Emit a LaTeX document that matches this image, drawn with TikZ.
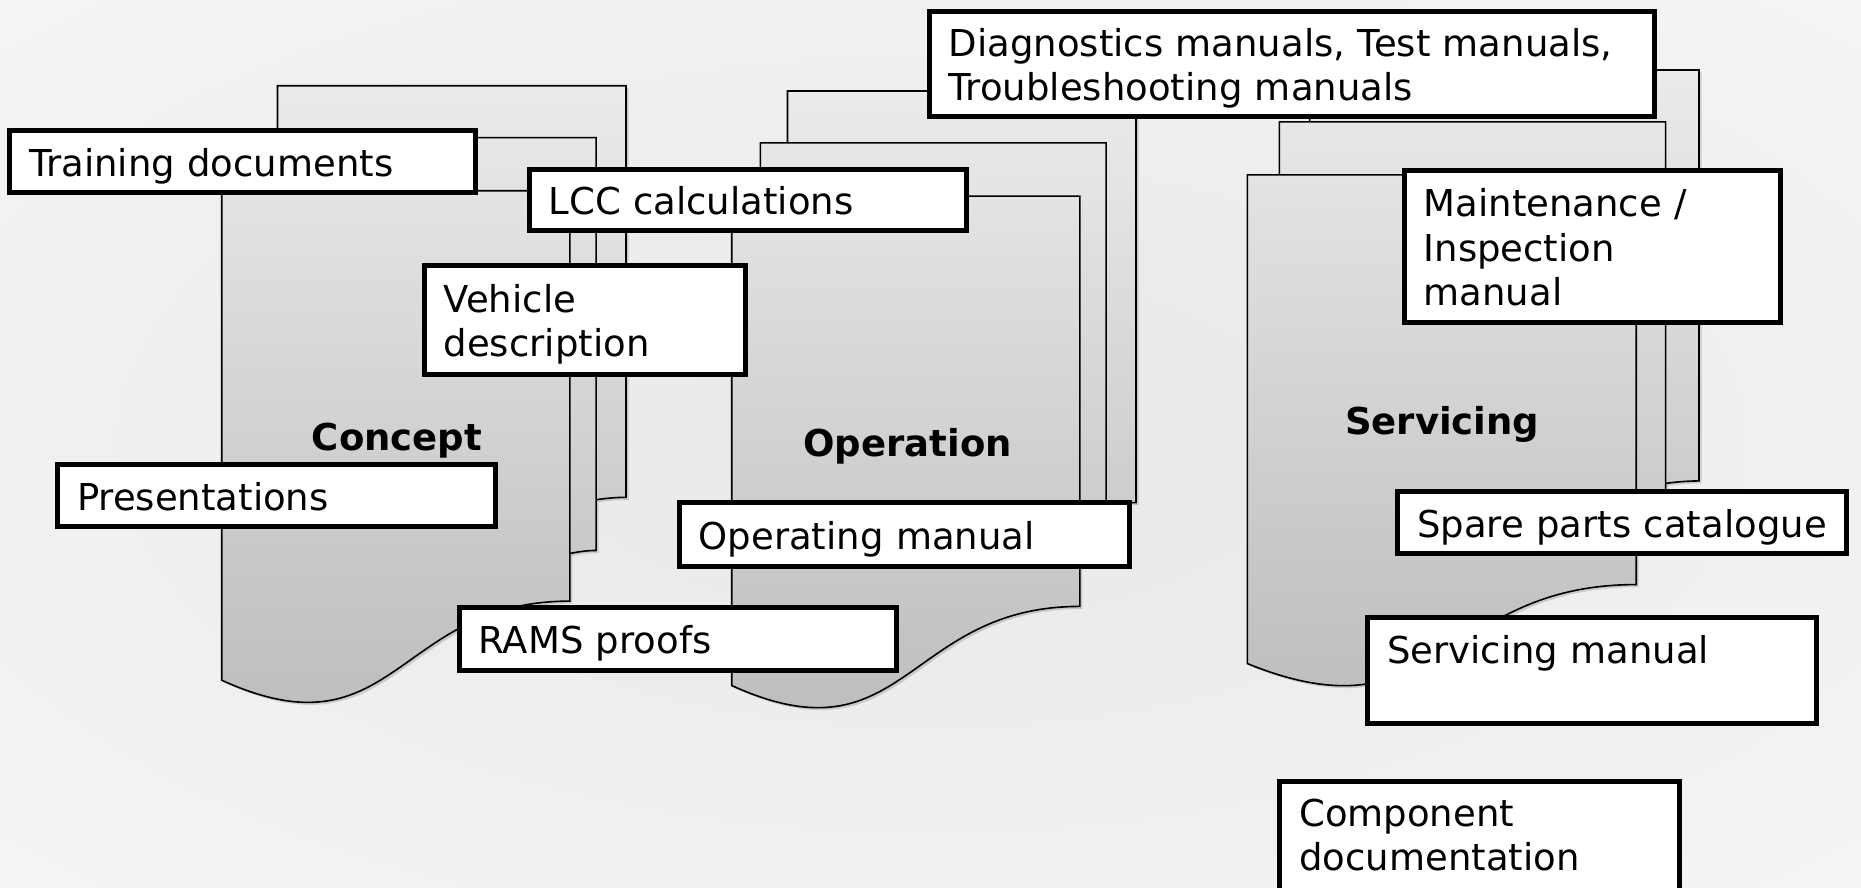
\documentclass[tikz,border=0pt]{standalone}
\usepackage{fontspec}
\setmainfont{DejaVu Sans}
\usetikzlibrary{positioning, shadows}

\pgfdeclareradialshading{bgglow}{\pgfpoint{0bp}{0bp}}{color(0bp)=(black!9); color(30bp)=(black!5); color(50bp)=(black!2)}

\tikzset{
  sheet/.style={draw=black, line width=1.6pt, top color=black!8, bottom color=black!27,
    drop shadow={shadow xshift=2.5pt, shadow yshift=-2.5pt, opacity=0.15, fill=black}},
  docbox/.style={draw, line width=5pt, fill=white, anchor=north west, outer sep=0pt,
    align=left, inner xsep=19.5pt, inner ysep=5pt, text height=37.2pt, text depth=7.8pt,
    font=\fontsize{37}{44.5}\selectfont},
  stage/.style={anchor=base west, inner sep=0pt, font=\fontsize{37}{44.5}\selectfont\bfseries}
}

% three stacked sheets: x, y, width, height
\newcommand{\docstack}[4]{%
  \path[sheet] (#1,{#2+0.170*#4}) -- ({#1+0.861*#3},{#2+0.170*#4}) -- ({#1+0.861*#3},{#2+0.834*#4})
      .. controls ({#1+0.430*#3},{#2+0.834*#4}) and ({#1+0.430*#3},{#2+1.090*#4}) .. (#1,{#2+0.962*#4}) -- cycle
    ({#1+0.071*#3},{#2+0.170*#4}) -- ({#1+0.071*#3},{#2+0.084*#4}) -- ({#1+0.926*#3},{#2+0.084*#4}) -- ({#1+0.926*#3},{#2+0.752*#4})
      .. controls ({#1+0.894*#3},{#2+0.752*#4}) and ({#1+0.861*#3},{#2+0.757*#4}) .. ({#1+0.861*#3},{#2+0.757*#4})
      -- ({#1+0.861*#3},{#2+0.170*#4}) -- cycle
    ({#1+0.138*#3},{#2+0.084*#4}) -- ({#1+0.138*#3},#2) -- ({#1+#3},#2) -- ({#1+#3},{#2+0.666*#4})
      .. controls ({#1+0.963*#3},{#2+0.666*#4}) and ({#1+0.926*#3},{#2+0.670*#4}) .. ({#1+0.926*#3},{#2+0.670*#4})
      -- ({#1+0.926*#3},{#2+0.084*#4}) -- cycle;
}

\begin{document}
\begin{tikzpicture}[x=1pt, y=-1pt]
  \useasboundingbox (0,0) rectangle (1861,887);
  \clip (0,0) rectangle (1861,887);
  \shade[shading=bgglow] (0,0) rectangle (1861,887);

  % Sheets
  \docstack{221.7}{85.7}{404.3}{618}
  \docstack{731.7}{91}{404.3}{618}
  \docstack{1247.3}{70}{451.7}{617}

  \node[stage] (concept) at (311.7,450) {Concept};
  \node[stage] (operation) at (803.3,456) {Operation};
  \node[stage] (servicing) at (1345,434) {Servicing};

  % Create nodes
  \node[docbox, text width=427.3pt, minimum height=62.6pt] (training) at (9.5,130.2) {Training documents};
  \node[docbox, text width=398.3pt, minimum height=61.3pt] (lcc) at (529.2,169.2) {LCC calculations};
  \node[docbox, text width=282.6pt, minimum height=108.4pt, text depth=52.3pt] (vehicle) at (424.2,265.8) {Vehicle\\description};
  \node[docbox, text width=399.3pt, minimum height=62pt] (present) at (57.5,464.5) {Presentations};
  \node[docbox, text width=398.6pt, minimum height=63pt] (rams) at (459.2,607.5) {RAMS proofs};
  \node[docbox, text width=411pt, minimum height=63.2pt] (operating) at (679.2,502.8) {Operating manual};
  \node[docbox, text width=686pt, minimum height=105pt, text depth=52.3pt] (diag) at (929.2,11.5) {Diagnostics manuals, Test manuals,\\Troubleshooting manuals};
  \node[docbox, text width=337pt, minimum height=151.7pt, text depth=96.8pt] (maint) at (1404.2,170.8) {Maintenance /\\Inspection\\manual};
  \node[docbox, text width=410pt, minimum height=61.7pt] (spare) at (1397.8,491.5) {Spare parts catalogue};
  \node[docbox, text width=410pt, text height=40.7pt, text depth=55.6pt] (servman) at (1367.5,617.5) {Servicing manual};
  \node[docbox, text width=361pt, text height=39.6pt, text depth=140pt] (component) at (1279.8,781.5) {Component\\documentation};
\end{tikzpicture}
\end{document}
